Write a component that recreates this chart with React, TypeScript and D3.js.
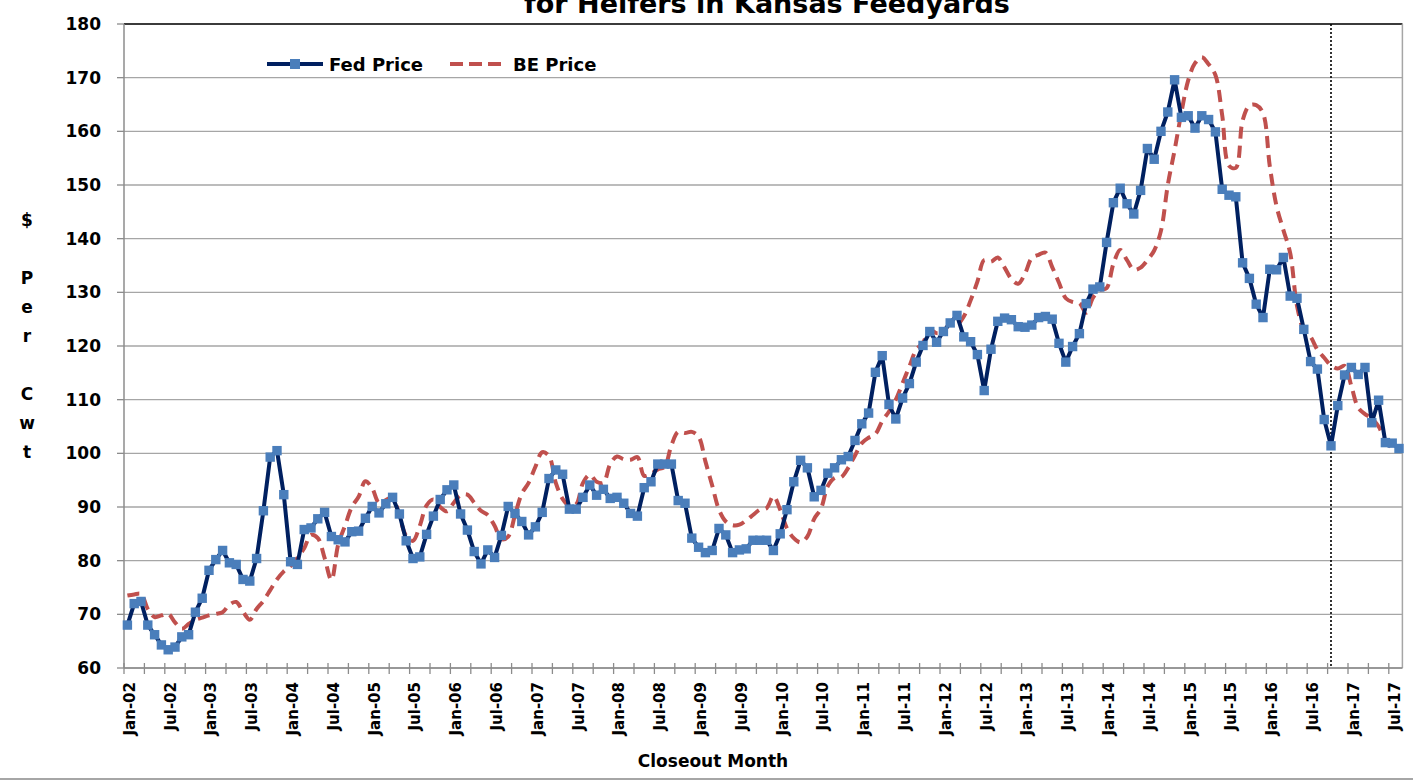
import React from 'react';
import * as d3 from 'd3';

const W = 1413;
const H = 782;
const margin = { top: 24, right: 10.6, bottom: 114, left: 124 };

const START_YEAR = 2002;
const MONTH_NAMES = ['Jan', 'Feb', 'Mar', 'Apr', 'May', 'Jun', 'Jul', 'Aug', 'Sep', 'Oct', 'Nov', 'Dec'];

// Fed price, $/cwt, monthly Jan-02 .. Aug-17
const fedPrice = [
    68.0, 72.0, 72.4, 68.0, 66.2, 64.3, 63.4, 63.9, 65.8, 66.2, 70.4, 73.0,
    78.2, 80.2, 81.9, 79.6, 79.3, 76.5, 76.2, 80.4, 89.3, 99.3, 100.5, 92.3,
    79.8, 79.3, 85.8, 86.1, 87.8, 89.0, 84.5, 83.9, 83.5, 85.4, 85.5, 87.9,
    90.1, 88.9, 90.6, 91.8, 88.7, 83.7, 80.4, 80.7, 84.9, 88.3, 91.4, 93.2,
    94.1, 88.7, 85.7, 81.7, 79.4, 82.0, 80.6, 84.7, 90.1, 88.8, 87.3, 84.8,
    86.3, 89.0, 95.3, 96.9, 96.1, 89.6, 89.6, 91.8, 94.1, 92.2, 93.3, 91.6,
    91.8, 90.7, 88.8, 88.3, 93.6, 94.7, 98.0, 98.0, 98.0, 91.2, 90.7, 84.2,
    82.5, 81.5, 81.9, 86.0, 84.8, 81.5, 82.0, 82.2, 83.8, 83.8, 83.8, 81.9,
    85.0, 89.5, 94.7, 98.7, 97.3, 91.9, 93.1, 96.3, 97.3, 98.8, 99.4, 102.4,
    105.5, 107.5, 115.1, 118.2, 109.1, 106.4, 110.3, 113.0, 117.0, 120.1, 122.7, 120.7,
    122.7, 124.3, 125.7, 121.7, 120.8, 118.4, 111.7, 119.4, 124.6, 125.2, 124.9, 123.6,
    123.5, 123.9, 125.3, 125.5, 125.0, 120.5, 117.0, 119.9, 122.3, 127.9, 130.6, 131.0,
    139.3, 146.7, 149.4, 146.5, 144.6, 149.0, 156.8, 154.8, 160.0, 163.6, 169.6, 162.6,
    162.9, 160.6, 162.9, 162.2, 159.9, 149.2, 148.1, 147.8, 135.5, 132.6, 127.8, 125.3,
    134.3, 134.2, 136.5, 129.3, 128.9, 123.1, 117.1, 115.7, 106.3, 101.4, 108.9, 114.6,
    116.0, 114.7, 116.0, 105.7, 109.9, 102.0, 101.9, 100.9,
];

// Break-even price, $/cwt, same months
const bePrice = [
    73.5, 73.7, 73.8, 71.0, 69.5, 69.8, 70.1, 68.5, 67.3, 68.2, 69.0, 69.4,
    69.8, 70.1, 70.4, 71.8, 72.3, 70.5, 69.0, 71.0, 72.5, 74.5, 76.5, 78.0,
    79.0, 80.5, 82.3, 84.8, 84.2, 80.5, 76.4, 83.0, 86.5, 90.0, 91.9, 94.8,
    93.5, 90.8, 91.3, 91.8, 88.3, 84.6, 83.7, 86.5, 90.3, 91.4, 90.0, 89.2,
    90.8, 92.2, 92.3, 90.8, 89.3, 88.5, 86.5, 84.0, 84.5, 88.5, 92.5, 94.5,
    97.5, 100.2, 99.5, 94.5, 91.5, 90.2, 90.5, 94.5, 96.0, 94.7, 94.5, 98.0,
    99.4, 98.9, 98.8, 99.3, 95.8, 96.2, 97.0, 97.5, 101.5, 104.0, 103.8, 104.0,
    103.1, 98.5, 94.0, 89.5, 87.3, 86.6, 86.7, 87.5, 88.5, 89.5, 89.8, 92.0,
    89.5, 86.0, 84.2, 83.4, 84.5, 87.8, 89.7, 93.9, 95.4, 95.6, 97.3, 99.6,
    101.9, 102.9, 103.6, 106.0, 107.8, 110.0, 113.1, 116.2, 119.3, 120.6, 123.0, 122.4,
    122.7, 124.2, 124.0, 125.5, 128.5, 132.0, 136.0, 135.7, 136.5, 134.6, 132.5, 131.6,
    133.5, 136.4, 137.0, 137.4, 134.7, 131.8, 128.9, 128.2, 128.0, 126.2, 129.0, 130.4,
    130.8, 135.3, 137.9, 136.0, 134.2, 134.6, 136.0, 137.8, 141.5, 150.0, 156.5, 163.5,
    169.5, 172.7, 173.8, 172.5, 170.5, 163.0, 153.6, 153.2, 162.0, 164.8, 164.9, 163.4,
    153.5, 146.0, 141.6, 137.3, 127.5, 123.0, 121.7, 119.3, 117.8, 116.4, 115.8, 116.3,
    112.5, 108.5, 107.3, 106.5, 105.0, 102.4, 101.0, 100.5,
];

const yTicks = [60, 70, 80, 90, 100, 110, 120, 130, 140, 150, 160, 170, 180];
const yTitleLines = ['$', '', 'P', 'e', 'r', '', 'C', 'w', 't'];
const projectionMonth = 'Oct-16';

const FONT = 'DejaVu Sans, Verdana, sans-serif';
const FED_LINE = '#002060';
const FED_MARK = '#4a7ebb';
const BE_COLOR = '#c0504d';
const GRID = '#a6a6a6';

const monthLabel = (i: number) =>
    `${MONTH_NAMES[i % 12]}-${String((START_YEAR + Math.floor(i / 12)) % 100).padStart(2, '0')}`;

export default function App() {
    const months = fedPrice.map((_, i) => monthLabel(i));

    const x = d3.scalePoint<string>()
        .domain(months)
        .range([margin.left, W - margin.right])
        .padding(0.5);
    const step = x.step();

    const y = d3.scaleLinear()
        .domain([60, 180])
        .range([H - margin.bottom, margin.top]);

    const fedLine = d3.line<number>()
        .x((_, i) => x(months[i])!)
        .y(d => y(d));

    const beLine = d3.line<number>()
        .x((_, i) => x(months[i])!)
        .y(d => y(d))
        .curve(d3.curveCatmullRom.alpha(0.5));

    const plotL = margin.left;
    const plotR = W - margin.right;
    const plotB = H - margin.bottom;
    const plotT = margin.top;

    // tick marks every 3 months, labels every 6
    const tickIdx = d3.range(0, months.length, 3);
    const labelIdx = d3.range(0, months.length, 6);

    const projX = x(projectionMonth)!;

    return (
        <svg width={W} height={H} style={{ position: 'absolute', left: 0, top: 0, background: '#fff' }}>
            {/* title (first line is off the top edge) */}
            <text x={767} y={13} textAnchor="middle" fontFamily={FONT} fontWeight="bold" fontSize={27} fill="#000">
                for Heifers in Kansas Feedyards
            </text>

            {/* gridlines */}
            {yTicks.map(t => (
                <line key={t} x1={plotL} x2={plotR} y1={y(t)} y2={y(t)} stroke={GRID} strokeWidth={1.3} />
            ))}
            <line x1={plotL} x2={plotR} y1={plotT} y2={plotT} stroke="#111" strokeWidth={1.5} />
            <line x1={plotR} x2={plotR} y1={plotT} y2={plotB} stroke={GRID} strokeWidth={1.5} />

            {/* y axis */}
            <line x1={plotL} x2={plotL} y1={plotT} y2={plotB} stroke="#8c8c8c" strokeWidth={1.5} />
            {yTicks.map(t => (
                <g key={t}>
                    <line x1={plotL - 7} x2={plotL} y1={y(t)} y2={y(t)} stroke="#8c8c8c" strokeWidth={1.3} />
                    <text x={101} y={y(t) + 6} textAnchor="end" fontFamily={FONT} fontWeight="bold" fontSize={17} fill="#000">
                        {t}
                    </text>
                </g>
            ))}
            <text fontFamily={FONT} fontWeight="bold" fontSize={17} fill="#000" textAnchor="middle">
                {yTitleLines.map((s, i) => (
                    <tspan key={i} x={27} y={226 + i * 29}>{s}</tspan>
                ))}
            </text>

            {/* x axis */}
            <line x1={plotL} x2={plotR} y1={plotB} y2={plotB} stroke="#8c8c8c" strokeWidth={1.5} />
            {tickIdx.map(i => {
                const tx = x(months[i])! - step / 2;
                return <line key={i} x1={tx} x2={tx} y1={plotB - 5} y2={plotB + 6} stroke="#8c8c8c" strokeWidth={1.3} />;
            })}
            {labelIdx.map(i => {
                const lx = x(months[i])! + 2;
                return (
                    <text key={i} transform={`translate(${lx},${plotB + 14}) rotate(-90)`} textAnchor="end" dy="0.36em"
                        fontFamily={FONT} fontWeight="bold" fontSize={15} fill="#000">
                        {months[i]}
                    </text>
                );
            })}
            <text x={713} y={767} textAnchor="middle" fontFamily={FONT} fontWeight="bold" fontSize={17} fill="#000">
                Closeout Month
            </text>

            {/* projection divider */}
            <line x1={projX} x2={projX} y1={plotT} y2={plotB} stroke="#000" strokeWidth={1.6} strokeDasharray="2,2" />

            {/* series */}
            <path d={beLine(bePrice)!} fill="none" stroke={BE_COLOR} strokeWidth={4} strokeDasharray="12,7" />
            <path d={fedLine(fedPrice)!} fill="none" stroke={FED_LINE} strokeWidth={4} strokeLinejoin="round" />
            {fedPrice.map((v, i) => (
                <rect key={i} x={x(months[i])! - 4.7} y={y(v) - 4.7} width={9.4} height={9.4} fill={FED_MARK} />
            ))}

            {/* legend */}
            <line x1={267} x2={323} y1={64} y2={64} stroke={FED_LINE} strokeWidth={4} />
            <rect x={290} y={59} width={10} height={10} fill={FED_MARK} />
            <text x={329} y={70.5} fontFamily={FONT} fontWeight="bold" fontSize={18} fill="#000">Fed Price</text>
            <line x1={450} x2={506} y1={64} y2={64} stroke={BE_COLOR} strokeWidth={4} strokeDasharray="13,6" />
            <text x={513} y={70.5} fontFamily={FONT} fontWeight="bold" fontSize={18} fill="#000">BE Price</text>

            {/* bottom frame */}
            <line x1={0} x2={W} y1={779} y2={779} stroke="#a6a6a6" strokeWidth={2} />
        </svg>
    );
}
